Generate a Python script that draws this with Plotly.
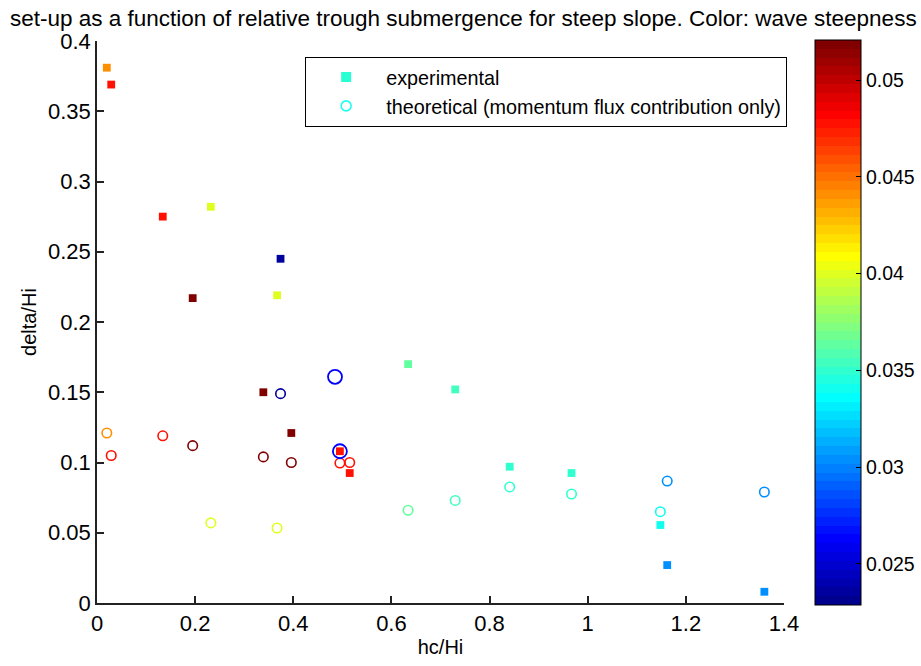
import math
import numpy as np
import plotly.graph_objects as go

# ---------------- data ----------------
hc_Hi = [0.020, 0.029, 0.134, 0.232, 0.374, 0.195, 0.367, 0.339, 0.396,
         0.495, 0.515, 0.634, 0.730, 0.841, 0.967, 1.148, 1.162, 1.360]
delta_exp = [0.381, 0.369, 0.275, 0.282, 0.245, 0.217, 0.219, 0.150, 0.121,
             0.108, 0.0925, 0.170, 0.152, 0.097, 0.0925, 0.0555, 0.027, 0.008]
delta_theo = [0.121, 0.105, 0.119, 0.057, 0.149, 0.112, 0.0534, 0.104, 0.100,
              0.0996, 0.100, 0.066, 0.073, 0.0826, 0.0776, 0.065, 0.0868, 0.079]
steepness = [0.0443, 0.0478, 0.0478, 0.0398, 0.0235, 0.052, 0.0398, 0.052, 0.052,
             0.0478, 0.0478, 0.0362, 0.0355, 0.0352, 0.0352, 0.0339, 0.0302, 0.0302]

# extra (larger) theoretical markers
hc_big = [0.485, 0.495]
delta_big = [0.161, 0.108]
steep_big = [0.0265, 0.0265]

cbar_ticks = [0.025, 0.03, 0.035, 0.04, 0.045, 0.05]
x_ticks = [0, 0.2, 0.4, 0.6, 0.8, 1, 1.2, 1.4]
y_ticks = [0, 0.05, 0.1, 0.15, 0.2, 0.25, 0.3, 0.35, 0.4]

CMIN, CMAX = 0.0229, 0.0521

# ---------------- MATLAB jet(64) colormap ----------------
def jet(m=64):
    n = math.ceil(m / 4)
    u = np.concatenate([np.arange(1, n + 1) / n, np.ones(n - 1), np.arange(n, 0, -1) / n])
    g = math.ceil(n / 2) - (1 if m % 4 == 1 else 0) + np.arange(1, len(u) + 1)
    r = g + n
    b = g - n
    J = np.zeros((m, 3))
    J[r[r <= m] - 1, 0] = u[r <= m]
    J[g[g <= m] - 1, 1] = u[g <= m]
    J[b[b >= 1] - 1, 2] = u[b >= 1]
    return J

J = jet(64)
colorscale = []
for i, c in enumerate(J):
    col = "rgb(%d,%d,%d)" % tuple(int(round(v * 255)) for v in c)
    colorscale.append([i / 64, col])
    colorscale.append([(i + 1) / 64, col])

FONT = "Liberation Sans, Arial, sans-serif"
TICK_SIZE = 22

fig = go.Figure()

fig.add_trace(go.Scatter(
    x=hc_Hi, y=delta_exp, mode="markers", showlegend=False,
    marker=dict(symbol="square", size=7.8, color=steepness, colorscale=colorscale,
                cmin=CMIN, cmax=CMAX, line=dict(width=0),
                colorbar=dict(
                    x=1.045, xanchor="left", y=0.5, yanchor="middle", len=1.006,
                    lenmode="fraction", thickness=46, thicknessmode="pixels",
                    outlinecolor="black", outlinewidth=1,
                    tickvals=cbar_ticks, ticktext=[("%g" % v) for v in cbar_ticks],
                    ticks="inside", ticklen=5, tickcolor="black",
                    tickfont=dict(family=FONT, size=19.5, color="black"),
                    xpad=0, ypad=0)),
))
fig.add_trace(go.Scatter(
    x=hc_Hi, y=delta_theo, mode="markers", showlegend=False,
    marker=dict(symbol="circle-open", size=9.5, color=steepness, colorscale=colorscale,
                cmin=CMIN, cmax=CMAX, line=dict(width=1.6)),
))
fig.add_trace(go.Scatter(
    x=hc_big, y=delta_big, mode="markers", showlegend=False,
    marker=dict(symbol="circle-open", size=14, color=steep_big, colorscale=colorscale,
                cmin=CMIN, cmax=CMAX, line=dict(width=1.8)),
))

# legend entries
fig.add_trace(go.Scatter(
    x=[None], y=[None], mode="markers", name="experimental", legendgroup="a",
    marker=dict(symbol="square", size=10, color="rgb(42,255,212)"),
))
fig.add_trace(go.Scatter(
    x=[None], y=[None], mode="markers", name="theoretical (momentum flux contribution only)",
    legendgroup="b",
    marker=dict(symbol="circle-open", size=10, color="rgb(30,255,240)", line=dict(width=1.6)),
))

axis_common = dict(
    showgrid=False, zeroline=False, showline=True, linecolor="#222", linewidth=1.5,
    ticks="inside", ticklen=7, tickwidth=1.5, tickcolor="#222",
    tickfont=dict(family=FONT, size=TICK_SIZE, color="black"), mirror=False,
    automargin=False,
)

fig.update_layout(
    width=921, height=666,
    margin=dict(l=97, r=137, t=41, b=63, autoexpand=False),
    paper_bgcolor="white", plot_bgcolor="white",
    font=dict(family=FONT, size=20, color="black"),
    title=dict(text="set-up as a function of relative trough submergence for steep slope. Color: wave steepness",
               x=0.503, xref="container", xanchor="center", y=0.973, yanchor="middle",
               font=dict(family=FONT, size=22.5, color="black")),
    xaxis=dict(range=[0, 1.4], tickvals=x_ticks, ticktext=[("%g" % v) for v in x_ticks],
               title=dict(text="hc/Hi", standoff=5, font=dict(family=FONT, size=20)),
               **axis_common),
    yaxis=dict(range=[0, 0.4], tickvals=y_ticks, ticktext=[("%g" % v) for v in y_ticks],
               title=dict(text="delta/Hi", standoff=6, font=dict(family=FONT, size=20)),
               **axis_common),
    legend=dict(x=0.303, y=0.972, xanchor="left", yanchor="top",
                bordercolor="black", borderwidth=1, bgcolor="white",
                font=dict(family=FONT, size=19.8, color="black"),
                itemwidth=70, tracegroupgap=4, traceorder="normal"),
)

fig.write_html("out.html")
